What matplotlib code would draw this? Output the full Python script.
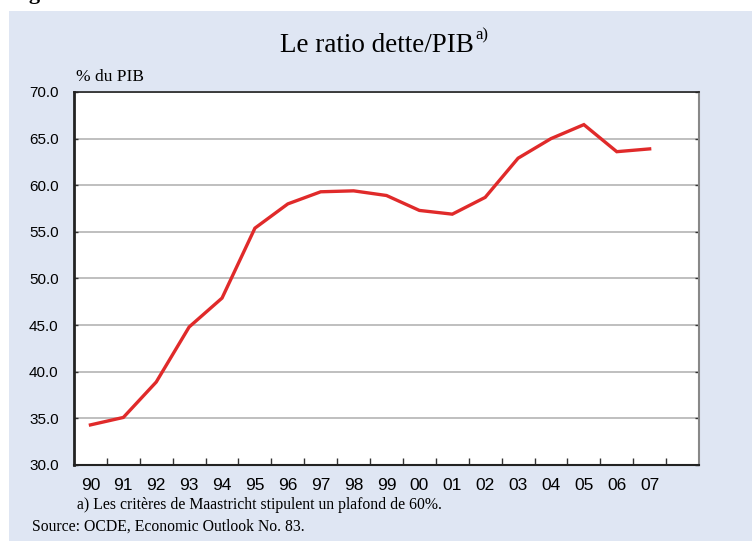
import matplotlib.pyplot as plt
from matplotlib.patches import Rectangle
from matplotlib.ticker import FixedLocator

# Data
years = ["90", "91", "92", "93", "94", "95", "96", "97", "98", "99",
         "00", "01", "02", "03", "04", "05", "06", "07"]
debt_ratio = [34.3, 35.1, 38.9, 44.8, 47.9, 55.4, 58.0, 59.3, 59.4, 58.9,
              57.3, 56.9, 58.7, 62.9, 65.0, 66.5, 63.6, 63.9]
y_ticks = [30, 35, 40, 45, 50, 55, 60, 65, 70]

W, H = 752, 541
bg = "#dfe6f3"
serif = ["Liberation Serif", "DejaVu Serif"]
sans = ["Liberation Sans", "DejaVu Sans"]

fig = plt.figure(figsize=(W / 100, H / 100), dpi=100)
fig.patch.set_facecolor("white")

# light blue panel
fig.add_artist(Rectangle((9 / W, 0), 1 - 9 / W, (H - 11) / H,
                         transform=fig.transFigure, facecolor=bg,
                         edgecolor="none", zorder=0))

# header of the page, cut off at the top edge (only the descender shows)
fig.text(10 / W, 1 + 1 / H, "Figure", fontsize=16, fontweight="bold",
         family=serif, va="baseline", ha="left")

ax = fig.add_axes([74 / W, (H - 465) / H, (699 - 74) / W, (465 - 92) / H])
ax.set_facecolor("white")

x = list(range(len(years)))
ax.plot(x, debt_ratio, color="#e02a2a", lw=2.4, solid_joinstyle="miter", zorder=3)

ax.set_xlim(-0.5, len(years) + 0.5)
ax.set_ylim(30, 70)

ax.set_yticks(y_ticks)
ax.set_yticklabels([f"{v:.1f}" for v in y_ticks], family=sans, fontsize=11)
ax.yaxis.grid(True, color="#b4b4b4", lw=1.2)
ax.set_axisbelow(True)
ax.tick_params(axis="y", direction="in", length=3, width=1, color="#333333",
               pad=11, right=True)

ax.set_xticks(x)
ax.set_xticklabels(years, family=sans, fontsize=12.5)
ax.xaxis.set_minor_locator(FixedLocator([i + 0.5 for i in range(len(years))]))
ax.tick_params(axis="x", which="major", length=0, pad=9)
ax.tick_params(axis="x", which="minor", direction="in", length=5, width=1,
               color="#333333")

for side, c, w in [("left", "#222222", 2.0), ("bottom", "#222222", 1.5),
                   ("top", "#222222", 1.2), ("right", "#888888", 1.5)]:
    ax.spines[side].set_color(c)
    ax.spines[side].set_linewidth(w)

# title with superscript
fig.text(377 / W, 1 - 52 / H, "Le ratio dette/PIB", fontsize=19.5, family=serif,
         ha="center", va="baseline")
fig.text(475 / W, 1 - 39 / H, "a)", fontsize=12, family=serif,
         ha="left", va="baseline")

fig.text(76 / W, 1 - 81 / H, "% du PIB", fontsize=12.5, family=serif,
         ha="left", va="baseline")
fig.text(77 / W, 1 - 509 / H,
         "a) Les critères de Maastricht stipulent un plafond de 60%.",
         fontsize=11.3, family=serif, ha="left", va="baseline")
fig.text(32 / W, 1 - 531 / H, "Source: OCDE, Economic Outlook No. 83.",
         fontsize=11.3, family=serif, ha="left", va="baseline")

fig.savefig("out.png", dpi=100, facecolor=fig.get_facecolor())
